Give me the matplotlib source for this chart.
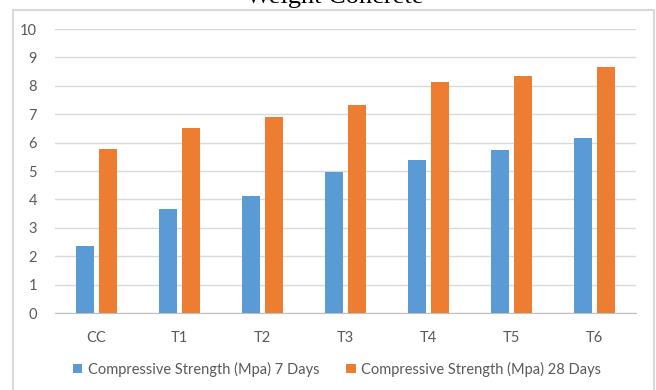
import numpy as np
import matplotlib.pyplot as plt
from matplotlib.patches import Rectangle

mixes = ["CC", "T1", "T2", "T3", "T4", "T5", "T6"]
days7 = [2.36, 3.66, 4.11, 4.95, 5.38, 5.73, 6.15]
days28 = [5.77, 6.52, 6.91, 7.33, 8.12, 8.36, 8.67]
labels = ["Compressive Strength (Mpa) 7 Days", "Compressive Strength (Mpa) 28 Days"]

blue = "#5b9bd5"
orange = "#ed7d31"
grey = "#595959"

plt.rcParams["font.family"] = ["Lato", "DejaVu Sans"]

fig = plt.figure(figsize=(6.56, 3.9), dpi=100)
ax = fig.add_axes([0.0838, 0.1974, 0.8857, 0.7282])

x = np.arange(len(mixes))
w = 0.22
ax.bar(x - 0.142, days7, w, color=blue, label=labels[0], zorder=3)
ax.bar(x + 0.142, days28, w, color=orange, label=labels[1], zorder=3)

ax.set_xlim(-0.5, len(mixes) - 0.5)
ax.set_ylim(0, 10)
ax.set_yticks(range(0, 11))
ax.set_xticks(x)
ax.set_xticklabels(mixes)
ax.tick_params(axis="both", length=0, colors=grey, labelsize=10.5)
ax.tick_params(axis="x", pad=13)
ax.tick_params(axis="y", pad=13)
ax.grid(axis="y", color="#d9d9d9", linewidth=1.0, zorder=0)
for s in ["top", "right", "left"]:
    ax.spines[s].set_visible(False)
ax.spines["bottom"].set_color("#bfbfbf")

leg = fig.legend(loc="center", bbox_to_anchor=(0.514, 1 - 369 / 390), ncol=2, frameon=False,
                 fontsize=10.5, handlelength=0.65, handleheight=0.65,
                 handletextpad=0.4, columnspacing=1.8)
for t in leg.get_texts():
    t.set_color(grey)

# chart border
fig.patches.append(Rectangle((12.5 / 656, -0.05), (654 - 12.5) / 656, 1 - 10 / 390 + 0.05,
                             transform=fig.transFigure, fill=False,
                             edgecolor="#d9d9d9", linewidth=1.5))

fig.text(0.511, 1 - 3 / 390, "Weight Concrete", ha="center", va="baseline",
         fontsize=19, family="Liberation Serif", color="black")

fig.savefig("out.png", dpi=100)
